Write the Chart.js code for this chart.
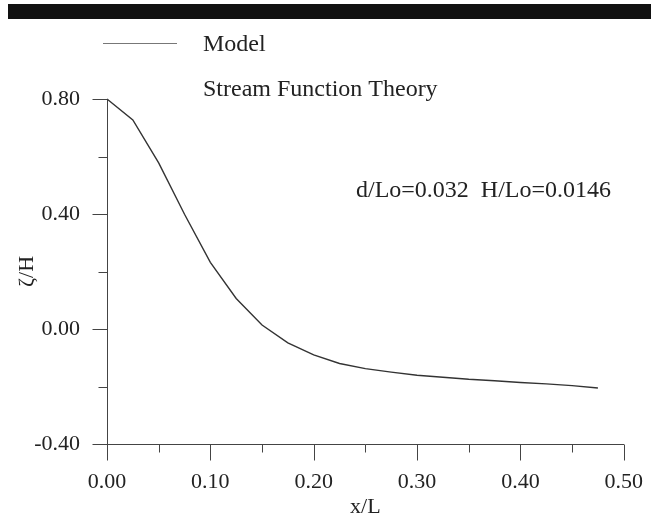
<!DOCTYPE html>
<html><head><meta charset="utf-8">
<script src="https://cdn.jsdelivr.net/npm/chart.js@4/dist/chart.umd.min.js"></script>
<style>html,body{margin:0;padding:0;background:#fff}#wrap{width:668px;height:520px;position:relative}</style>
</head><body><div id="wrap"><canvas id="c" width="668" height="520"></canvas></div>
<script>
// ---- data ----
const xValues = [0, 0.025, 0.05, 0.075, 0.1, 0.125, 0.15, 0.175, 0.2, 0.225, 0.25, 0.275, 0.3, 0.325, 0.35, 0.375, 0.4, 0.425, 0.45, 0.475];
const modelValues = [0.80, 0.727, 0.578, 0.399, 0.232, 0.106, 0.014, -0.048, -0.090, -0.120, -0.138, -0.150, -0.161, -0.168, -0.175, -0.180, -0.186, -0.191, -0.197, -0.205];
const xMajorTicks = [0, 0.1, 0.2, 0.3, 0.4, 0.5];
const xMinorTicks = [0.05, 0.15, 0.25, 0.35, 0.45];
const yMajorTicks = [-0.4, 0, 0.4, 0.8];
const yMinorTicks = [-0.2, 0.2, 0.6];
const legendLabels = ['Model', 'Stream Function Theory'];
const annotationText = 'd/Lo=0.032  H/Lo=0.0146';
const xTitle = 'x/L';
const yTitle = 'ζ/H';

const FONT = "'Liberation Serif', 'Times New Roman', serif";
const TEXT = '#222';
const AXIS = '#444';

const decor = {
  id: 'decor',
  afterDraw(chart) {
    const ctx = chart.ctx;
    const xs = chart.scales.x, ys = chart.scales.y;
    ctx.save();
    // ticks
    ctx.strokeStyle = AXIS; ctx.lineWidth = 1;
    const ax = Math.round(xs.left) + 0.5, ay = Math.round(ys.bottom) + 0.5;
    ctx.beginPath();
    yMajorTicks.forEach(v => { const p = Math.round(ys.getPixelForValue(v)) + 0.5; ctx.moveTo(ax - 15, p); ctx.lineTo(ax, p); });
    yMinorTicks.forEach(v => { const p = Math.round(ys.getPixelForValue(v)) + 0.5; ctx.moveTo(ax - 9, p); ctx.lineTo(ax, p); });
    xMajorTicks.forEach(v => { const p = Math.round(xs.getPixelForValue(v)) + 0.5; ctx.moveTo(p, ay); ctx.lineTo(p, ay + 16); });
    xMinorTicks.forEach(v => { const p = Math.round(xs.getPixelForValue(v)) + 0.5; ctx.moveTo(p, ay); ctx.lineTo(p, ay + 8); });
    ctx.stroke();
    // top black bar
    ctx.fillStyle = '#111';
    ctx.fillRect(8, 4, 643, 15);
    // legend
    ctx.strokeStyle = '#777'; ctx.lineWidth = 1;
    ctx.beginPath(); ctx.moveTo(103, 43.5); ctx.lineTo(177, 43.5); ctx.stroke();
    ctx.fillStyle = TEXT;
    ctx.font = '24px ' + FONT;
    ctx.textBaseline = 'alphabetic'; ctx.textAlign = 'left';
    ctx.fillText(legendLabels[0], 203, 51);
    ctx.fillText(legendLabels[1], 203, 96);
    // annotation
    ctx.fillText(annotationText, 356, 197);
    ctx.restore();
  }
};

new Chart(document.getElementById('c'), {
  type: 'line',
  data: {
    datasets: [{
      label: legendLabels[0],
      data: xValues.map((x, i) => ({x: x, y: modelValues[i]})),
      borderColor: '#333',
      borderWidth: 1.4,
      pointRadius: 0,
      tension: 0,
      fill: false,
      clip: false
    }]
  },
  options: {
    responsive: false,
    animation: false,
    devicePixelRatio: 1,
    layout: {padding: {left: 0, right: 32, top: 99, bottom: 0}},
    plugins: {legend: {display: false}, tooltip: {enabled: false}},
    scales: {
      x: {
        type: 'linear', min: 0, max: 0.5,
        ticks: {stepSize: 0.1, callback: v => Number(v).toFixed(2), font: {family: FONT, size: 22}, color: TEXT, padding: 25, maxRotation: 0, autoSkip: false},
        grid: {display: false, drawTicks: false, tickLength: 0},
        border: {display: true, color: AXIS, width: 1},
        title: {display: true, text: xTitle, font: {family: FONT, size: 22}, color: TEXT, padding: {top: 0, bottom: 0}},
        afterFit(s) { s.height = 76; }
      },
      y: {
        type: 'linear', min: -0.4, max: 0.8,
        ticks: {stepSize: 0.4, callback: v => Number(v).toFixed(2), font: {family: FONT, size: 22}, color: TEXT, padding: 27},
        grid: {display: false, drawTicks: false, tickLength: 0},
        border: {display: true, color: AXIS, width: 1},
        title: {display: true, text: yTitle, font: {family: FONT, size: 22}, color: TEXT, padding: {top: 14, bottom: 0}},
        afterFit(s) { s.width = 107; }
      }
    }
  },
  plugins: [decor]
});
</script>
</body></html>
